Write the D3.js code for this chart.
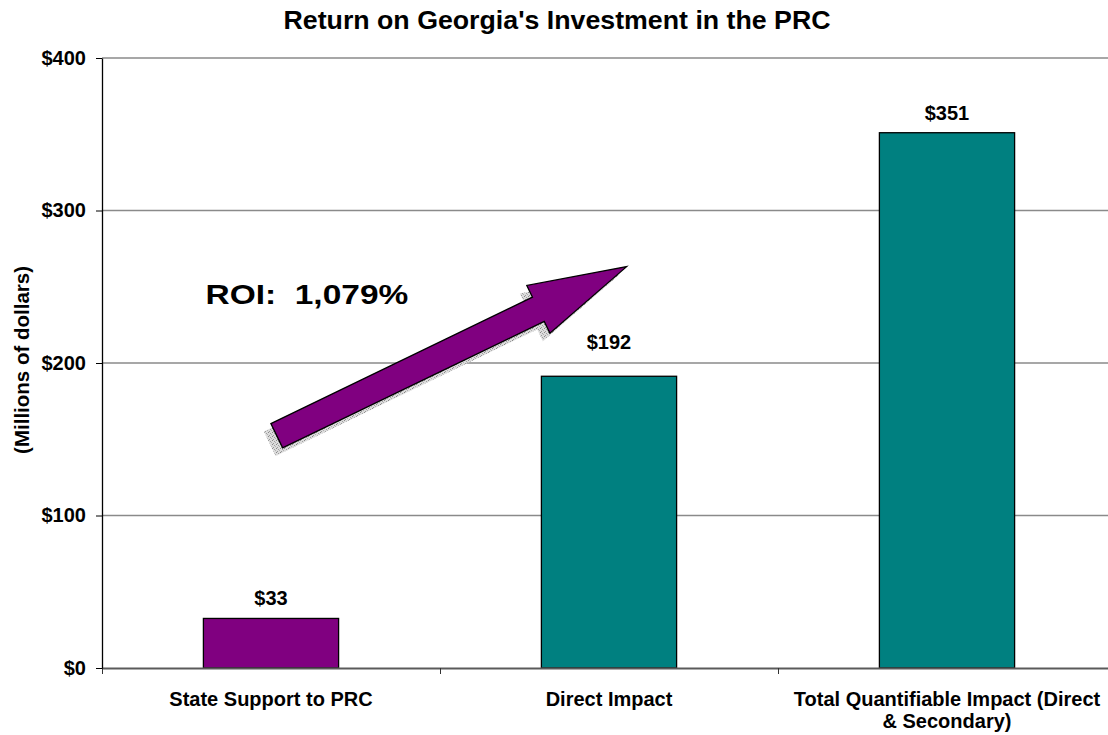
<!DOCTYPE html>
<meta charset='utf-8'>
<style>
body { margin: 0; background: #fff; }
text { font-family: Arial, 'Liberation Sans', sans-serif; font-weight: bold; fill: #000; }
</style>
<div id='chart'></div>
<script src='https://d3js.org/d3.v7.min.js'></script>
<script>
  // chart data
  var categories = ['State Support to PRC', 'Direct Impact', 'Total Quantifiable Impact (Direct & Secondary)'];
  var values = [32.5, 191.3, 351];
  var valueLabels = ['$33', '$192', '$351'];
  var barColors = ['#800080', '#008080', '#008080'];
  var yTicks = [0, 100, 200, 300, 400];
  var title = "Return on Georgia's Investment in the PRC";
  var yTitle = '(Millions of dollars)';
  var roiText = 'ROI:  1,079%';
  // arrow annotation, in (category units, $ millions)
  var arrowFrom = [0.517, 152.3];
  var arrowTo = [1.552, 263.2];

  var W = 1108, H = 735;
  var margin = {top: 58, left: 102, bottom: 67};
  var step = 338;
  var labelLift = [13, 27, 13];

  var svg = d3.select('#chart').append('svg')
    .attr('width', W)
    .attr('height', H);

  var x = d3.scaleLinear()
    .domain([0, categories.length])
    .range([margin.left, margin.left + step * categories.length]);
  var y = d3.scaleLinear()
    .domain([0, 400])
    .range([H - margin.bottom, margin.top]);

  // gridlines
  svg.append('g').selectAll('line')
    .data(yTicks.filter(function(d) { return d > 0; }))
    .enter().append('line')
      .attr('x1', x(0)).attr('x2', x(3))
      .attr('y1', function(d) { return y(d); })
      .attr('y2', function(d) { return y(d); })
      .attr('stroke', '#8a8a8a')
      .attr('stroke-width', 1.3);

  // bars
  var bw = step * 0.4;
  svg.append('g').selectAll('rect')
    .data(values)
    .enter().append('rect')
      .attr('x', function(d, i) { return x(i + 0.5) - bw / 2; })
      .attr('y', function(d) { return y(d); })
      .attr('width', bw)
      .attr('height', function(d) { return y(0) - y(d); })
      .attr('fill', function(d, i) { return barColors[i]; })
      .attr('stroke', '#000')
      .attr('stroke-width', 1.3);

  svg.append('g').selectAll('text')
    .data(values)
    .enter().append('text')
      .attr('x', function(d, i) { return x(i + 0.5); })
      .attr('y', function(d, i) { return y(d) - labelLift[i]; })
      .attr('text-anchor', 'middle')
      .style('font-size', '20px')
      .text(function(d, i) { return valueLabels[i]; });

  // x axis
  var xAx = svg.append('g')
    .attr('transform', 'translate(0,' + y(0) + ')')
    .call(d3.axisBottom(x).tickValues([0, 1, 2]).tickFormat('').tickSizeInner(6).tickSizeOuter(0));
  xAx.select('.domain').attr('stroke', '#5a5a5a').attr('stroke-width', 2);
  xAx.selectAll('.tick line').attr('stroke', '#333');

  svg.append('g').selectAll('text')
    .data(categories)
    .enter().append('text')
      .attr('x', function(d, i) { return x(i + 0.5); })
      .attr('y', 705.5)
      .attr('text-anchor', 'middle')
      .style('font-size', '20px')
      .text(function(d) { return d; })
      .each(function(d, i) { wrap(d3.select(this), x(i + 0.5), 318); });

  function wrap(t, cx, maxW) {
    var words = t.text().split(' '), line = [];
    t.text(null);
    var ts = t.append('tspan').attr('x', cx);
    words.forEach(function(w) {
      line.push(w);
      ts.text(line.join(' '));
      if (ts.node().getComputedTextLength() > maxW && line.length > 1) {
        line.pop();
        ts.text(line.join(' '));
        line = [w];
        ts = t.append('tspan').attr('x', cx).attr('dy', 22.7).text(w);
      }
    });
  }

  // y axis
  var yAx = svg.append('g')
    .attr('transform', 'translate(' + x(0) + ',0)')
    .call(d3.axisLeft(y).tickValues(yTicks).tickFormat(function(d) { return '$' + d; })
      .tickSizeInner(6).tickSizeOuter(0).tickPadding(10));
  yAx.select('.domain').attr('stroke', '#000').attr('stroke-width', 1.3);
  yAx.selectAll('.tick line').attr('stroke', '#000');
  yAx.selectAll('.tick text')
    .attr('fill', '#000')
    .style('font-size', '20px')
    .style('font-family', "Arial, 'Liberation Sans', sans-serif")
    .style('font-weight', 'bold');

  svg.append('text')
    .attr('transform', 'translate(29,' + y(202) + ') rotate(-90)')
    .attr('text-anchor', 'middle')
    .style('font-size', '20.5px')
    .text(yTitle);

  // title
  svg.append('text')
    .attr('transform', 'translate(557,29.3) scale(1.07,1)')
    .attr('text-anchor', 'middle')
    .style('font-size', '25px')
    .text(title);

  // ROI arrow with stippled shadow
  var defs = svg.append('defs');
  var pat = defs.append('pattern')
    .attr('id', 'stip')
    .attr('patternUnits', 'userSpaceOnUse')
    .attr('width', 4).attr('height', 4);
  pat.append('rect').attr('width', 4).attr('height', 4).attr('fill', '#dcdcdc');
  pat.append('rect').attr('x', 0).attr('y', 0).attr('width', 1).attr('height', 1).attr('fill', '#888');
  pat.append('rect').attr('x', 2).attr('y', 1).attr('width', 1).attr('height', 1).attr('fill', '#a0a0a0');
  pat.append('rect').attr('x', 1).attr('y', 3).attr('width', 1).attr('height', 1).attr('fill', '#999');
  pat.append('rect').attr('x', 3).attr('y', 2).attr('width', 1).attr('height', 1).attr('fill', '#b0b0b0');

  var p0 = [x(arrowFrom[0]), y(arrowFrom[1])];
  var p1 = [x(arrowTo[0]), y(arrowTo[1])];
  var dx = p1[0] - p0[0], dy = p1[1] - p0[1];
  var len = Math.sqrt(dx * dx + dy * dy);
  var ux = dx / len, uy = dy / len, nx = -uy, ny = ux;
  var shaftHalf = 13.5, headHalf = 26.5, headLen = 98;
  function pt(a, b) { return [p0[0] + ux * a + nx * b, p0[1] + uy * a + ny * b]; }
  var arrowPts = [
    pt(0, -shaftHalf), pt(len - headLen, -shaftHalf), pt(len - headLen, -headHalf),
    pt(len, 0),
    pt(len - headLen, headHalf), pt(len - headLen, shaftHalf), pt(0, shaftHalf)
  ];
  svg.append('polygon')
    .attr('points', arrowPts.map(function(p) { return (p[0] - 7) + ',' + (p[1] + 8); }).join(' '))
    .attr('fill', 'url(#stip)');
  svg.append('polygon')
    .attr('points', arrowPts.map(function(p) { return p.join(','); }).join(' '))
    .attr('fill', '#800080')
    .attr('stroke', '#000')
    .attr('stroke-width', 1.3)
    .attr('stroke-linejoin', 'miter');

  svg.append('text')
    .attr('transform', 'translate(205.5,303.5) scale(1.24,1)')
    .style('font-size', '27px')
    .style('white-space', 'pre')
    .attr('xml:space', 'preserve')
    .text(roiText);
</script>
